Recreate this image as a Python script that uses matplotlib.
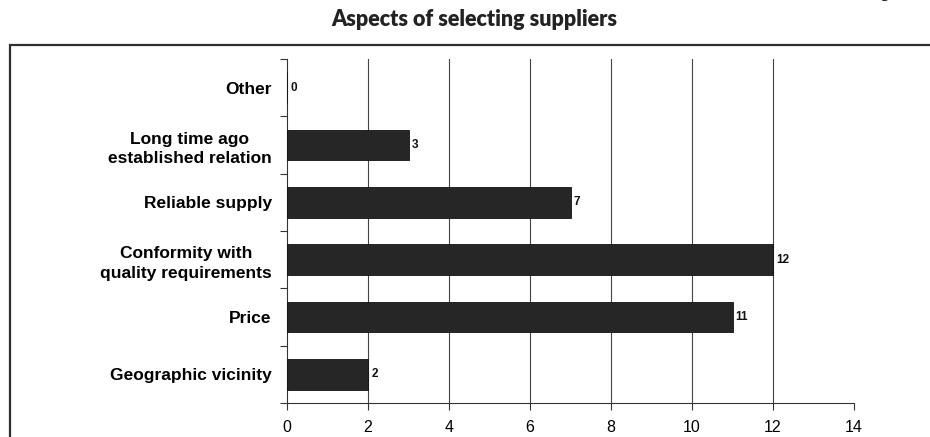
import matplotlib
matplotlib.use("Agg")
import matplotlib.pyplot as plt
from matplotlib.patches import Rectangle

# data (bottom to top as drawn)
categories = ["Geographic vicinity", "Price", "Conformity with\nquality requirements",
              "Reliable supply", "Long time ago\nestablished relation", "Other"]
values = [2, 11, 12, 7, 3, 0]
xticks = [0, 2, 4, 6, 8, 10, 12, 14]

W, H = 930, 437
fig = plt.figure(figsize=(W / 100, H / 100), dpi=100)

# outer frame (only top and left edge visible)
fig.add_artist(Rectangle((10 / W, -0.1), 1.2, 1.1 - 45 / H, transform=fig.transFigure,
                         fill=False, edgecolor="#2e2e2e", linewidth=1.6))

# figure label at top right, mostly cut off by the page edge
fig.text(927 / W, 1 + 2 / H, "Figure 6", ha="right", va="baseline",
         family="Lato", fontweight="bold", fontsize=12, color="#222222")

fig.text(474 / W, 1 - 20 / H, "Aspects of selecting suppliers", ha="center", va="center",
         family="Lato", fontweight="heavy", fontsize=15.5, color="#222222")

ax = fig.add_axes([287 / W, 1 - 403 / H, (854 - 287) / W, (403 - 59) / H])
pos = list(range(len(categories)))
ax.barh(pos, values, height=0.54, color="#262626", edgecolor="#111111", linewidth=0.6, zorder=3)

for p, v in zip(pos, values):
    ax.text(v + 0.08, p, str(v), va="center", ha="left", fontsize=8.5,
            fontweight="bold", family="Liberation Sans", color="#111111")

ax.set_xlim(0, 14)
ax.set_ylim(-0.5, len(categories) - 0.5)
ax.set_xticks(xticks)
ax.set_xticklabels([str(t) for t in xticks], family="Liberation Sans", fontsize=11.5)
ax.set_yticks(pos)
ax.set_yticklabels(categories, family="Liberation Sans", fontweight="bold", fontsize=12.5,
                   linespacing=1.4, ha="right", multialignment="center")
ax.set_yticks([p - 0.5 for p in pos] + [len(pos) - 0.5], minor=True)
ax.tick_params(axis="y", which="major", length=0, pad=11)
ax.tick_params(axis="y", which="minor", length=5, width=0.8, color="#333333")
ax.tick_params(axis="x", length=5, width=0.8, color="#333333", pad=7.5)

ax.grid(axis="x", color="#444444", linewidth=0.8, zorder=0)
ax.xaxis.get_gridlines()[0].set_visible(False)
ax.xaxis.get_gridlines()[-1].set_visible(False)

for s in ["top", "right"]:
    ax.spines[s].set_visible(False)
for s in ["left", "bottom"]:
    ax.spines[s].set_color("#333333")
    ax.spines[s].set_linewidth(0.8)

fig.savefig("out.png", dpi=100)
